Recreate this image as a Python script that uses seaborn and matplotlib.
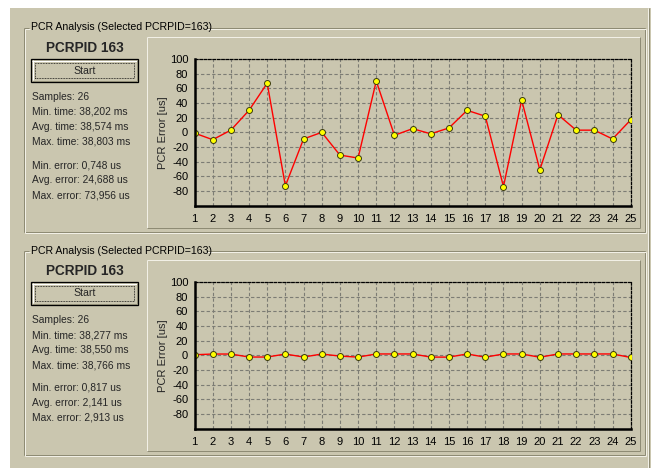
import numpy as np
import pandas as pd
import matplotlib
matplotlib.use("Agg")
import matplotlib.pyplot as plt
import seaborn as sns
from matplotlib.lines import Line2D
from matplotlib.patches import Rectangle
from matplotlib.ticker import MultipleLocator

# ---------------- data ----------------
samples = list(range(1, 26))
errors_top = [-1, -10, 3, 30, 67, -73, -9, 0, -31, -35, 70, -4, 5, -2, 6, 30, 22, -74, 44, -51, 24, 3, 3, -9, 17]
errors_bottom = [0.8, 1.8, 1.8, -2.3, -2.3, 1.8, -2.3, 1.8, -1.0, -2.4, 1.9, 1.9, 1.9, -2.4, -2.4, 1.9, -2.5, 1.9, 1.9, -2.6, 1.9, 1.9, 1.9, 1.9, -2.9]
y_ticks = [100, 80, 60, 40, 20, 0, -20, -40, -60, -80]
group_title = "PCR Analysis (Selected PCRPID=163)"
pid_label = "PCRPID 163"
button_label = "Start"
stats_top = ["Samples: 26", "Min. time: 38,202 ms", "Avg. time: 38,574 ms", "Max. time: 38,803 ms",
             "Min. error: 0,748 us", "Avg. error: 24,688 us", "Max. error: 73,956 us"]
stats_bottom = ["Samples: 26", "Min. time: 38,277 ms", "Avg. time: 38,550 ms", "Max. time: 38,766 ms",
                "Min. error: 0,817 us", "Avg. error: 2,141 us", "Max. error: 2,913 us"]
y_label = "PCR Error [us]"

# ---------------- style ----------------
sns.set_style("white")
plt.rcParams['font.family'] = ['Liberation Sans', 'DejaVu Sans']

BG = '#CAC6AF'
DARK = '#8E8B74'
LIGHT = '#F2F0E6'
W, H = 651, 468
PX = 72.0 / 100  # one pixel in points

fig = plt.figure(figsize=(W / 100, H / 100), dpi=100, facecolor=BG)


def fx(x):
    return x / W


def fy(y):
    return 1 - y / H


def hline(x0, x1, y, color, lw=1):
    fig.add_artist(Line2D([fx(x0), fx(x1)], [fy(y), fy(y)], transform=fig.transFigure,
                          color=color, lw=lw * PX, solid_capstyle='butt'))


def vline(x, y0, y1, color, lw=1, ls='-'):
    fig.add_artist(Line2D([fx(x), fx(x)], [fy(y0), fy(y1)], transform=fig.transFigure,
                          color=color, lw=lw * PX, ls=ls, solid_capstyle='butt'))


def rect(x0, y0, x1, y1, **kw):
    fig.add_artist(Rectangle((fx(x0), fy(y1)), fx(x1) - fx(x0), fy(y0) - fy(y1),
                             transform=fig.transFigure, **kw))


# white window margins
rect(0, 0, 9.5, H, facecolor='white', edgecolor='none')
rect(0, 0, W, 8, facecolor='white', edgecolor='none')
vline(648, 8, H, LIGHT)
vline(649, 8, H, DARK)


def draw_panel(dy, stats, errors):
    # etched group box
    gx0, gx1, gy0, gy1 = 24, 645, 28 + dy, 232 + dy
    for off, col in ((0, DARK), (1, LIGHT)):
        hline(gx0 + off, 29 + off, gy0 + off, col)
        hline(206, gx1 + off, gy0 + off, col)
        hline(gx0 + off, gx1 + off, gy1 + off, col)
        vline(gx0 + off, gy0 + off, gy1 + off, col)
        vline(gx1 + off, gy0 + off, gy1 + off, col)
    fig.text(fx(31), fy(27.5 + dy), group_title, fontsize=7.6, va='center', ha='left', color='black')

    # sunken plot panel
    hline(147, 640, 37 + dy, LIGHT)
    vline(147, 37 + dy, 228 + dy, LIGHT)
    hline(147, 640, 228 + dy, DARK)
    vline(640, 37 + dy, 228 + dy, DARK)

    # PID label
    fig.text(fx(85), fy(48 + dy), pid_label, fontsize=9.8, fontweight='bold', ha='center', va='center')

    # button
    rect(31, 59 + dy, 138, 82 + dy, facecolor=BG, edgecolor='black', lw=1.3 * PX)
    hline(32, 137, 60.5 + dy, 'white')
    vline(32.5, 60 + dy, 80 + dy, 'white')
    hline(32, 137, 80.5 + dy, DARK)
    vline(136.5, 60 + dy, 81 + dy, DARK)
    rect(35, 63 + dy, 134, 77.5 + dy, facecolor='none', edgecolor='black', lw=0.8 * PX, ls=(0, (1, 1)))
    fig.text(fx(84.5), fy(70.5 + dy), button_label, fontsize=7.6, ha='center', va='center')

    # stats
    ys = [97, 112, 127, 142, 165, 180, 195]
    for s, yy in zip(stats, ys):
        fig.text(fx(32), fy(yy + dy), s, fontsize=7.4, ha='left', va='center')

    # chart
    top, bottom = 59 + dy, 205.7 + dy
    left, right = 194.5, 630.7
    ax = fig.add_axes([fx(left), fy(bottom), fx(right) - fx(left), fy(top) - fy(bottom)])
    ax.set_facecolor(BG)
    df = pd.DataFrame({"Sample": samples, "Error": errors})
    sns.lineplot(data=df, x="Sample", y="Error", ax=ax, color='#FF0000', lw=1.0,
                 marker='o', markersize=4.3, markerfacecolor='#FFFF00',
                 markeredgecolor='#3A3A10', markeredgewidth=0.7, zorder=5, clip_on=True)
    ax.set_xlim(1, 25)
    ax.set_ylim(-100, 100)
    ax.set_xticks(samples)
    ax.set_xticklabels([str(s) for s in samples])
    ax.xaxis.set_minor_locator(MultipleLocator(0.25))
    ax.set_yticks(y_ticks)
    ax.set_yticklabels([str(v) for v in y_ticks])
    ax.grid(True, which='major', color='#7C7C74', lw=0.8, ls=(0, (3, 2)))
    ax.tick_params(axis='x', which='major', direction='in', length=3.5, width=0.7, labelsize=8, pad=6, colors='black')
    ax.tick_params(axis='x', which='minor', direction='in', length=2, width=0.5, colors='#303030')
    ax.tick_params(axis='y', which='major', direction='out', length=3, width=0.8, labelsize=8, pad=1.5, colors='black')
    for side in ('top', 'right'):
        ax.spines[side].set_linestyle((0, (2, 1.5)))
        ax.spines[side].set_linewidth(0.9)
        ax.spines[side].set_color('black')
    for side in ('left', 'bottom'):
        ax.spines[side].set_linewidth(1.8)
        ax.spines[side].set_color('black')
        ax.spines[side].set_zorder(6)
    ax.set_xlabel('')
    ax.set_ylabel(y_label, fontsize=8, labelpad=4)
    ax.yaxis.set_label_coords(-0.061, 0.5)
    return ax


draw_panel(0, stats_top, errors_top)
draw_panel(223, stats_bottom, errors_bottom)

fig.savefig("out.png", dpi=100, facecolor=BG)
